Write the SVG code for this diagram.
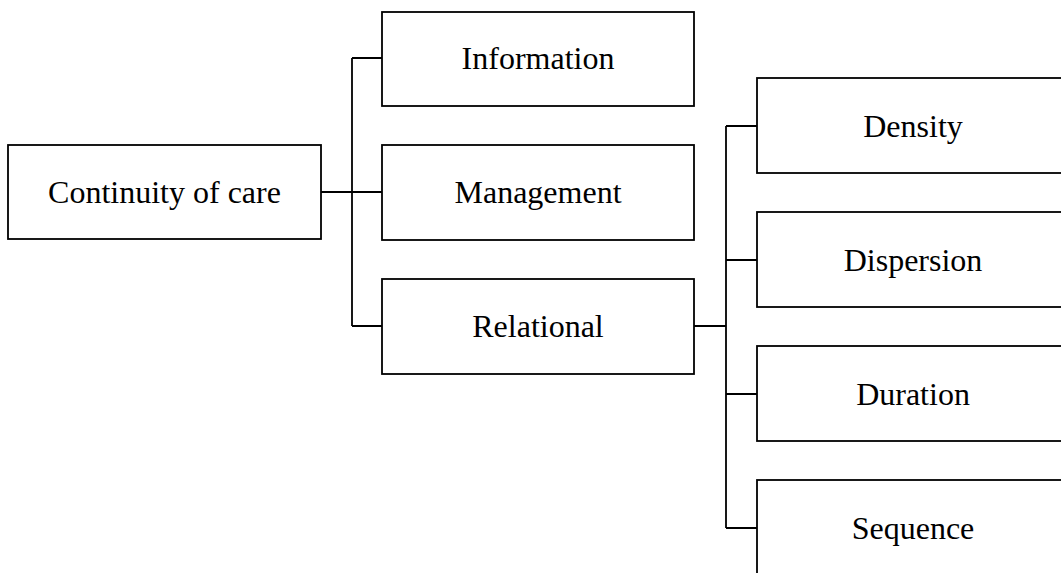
<svg xmlns="http://www.w3.org/2000/svg" width="1061" height="573" viewBox="0 0 1061 573">
<style>
.box{fill:#fff;stroke:#000;stroke-width:1.8}
.lbl{font-family:"Liberation Serif","Times New Roman",serif;font-size:32px;fill:#000;text-anchor:middle}
.con{fill:none;stroke:#000;stroke-width:1.8}
</style>
<rect width="1061" height="573" fill="#fff"/>
<g id="connectors">
<path class="con" d="M321,192 H382 M352,58 V326 M352,58 H382 M352,326 H382"/>
<path class="con" d="M694,326 H726 M726,126 V528 M726,126 H757 M726,260 H757 M726,394 H757 M726,528 H757"/>
</g>
<g id="continuity"><rect class="box" x="8" y="145" width="313" height="94"/><text class="lbl" x="164.5" y="203">Continuity of care</text></g>
<g id="information"><rect class="box" x="382" y="12" width="312" height="94"/><text class="lbl" x="538" y="69">Information</text></g>
<g id="management"><rect class="box" x="382" y="145" width="312" height="95"/><text class="lbl" x="538" y="203">Management</text></g>
<g id="relational"><rect class="box" x="382" y="279" width="312" height="95"/><text class="lbl" x="538" y="337">Relational</text></g>
<g id="density"><rect class="box" x="757" y="78" width="312" height="95"/><text class="lbl" x="913" y="137">Density</text></g>
<g id="dispersion"><rect class="box" x="757" y="212" width="312" height="95"/><text class="lbl" x="913" y="271">Dispersion</text></g>
<g id="duration"><rect class="box" x="757" y="346" width="312" height="95"/><text class="lbl" x="913" y="405">Duration</text></g>
<g id="sequence"><rect class="box" x="757" y="480" width="312" height="95"/><text class="lbl" x="913" y="539">Sequence</text></g>
</svg>
